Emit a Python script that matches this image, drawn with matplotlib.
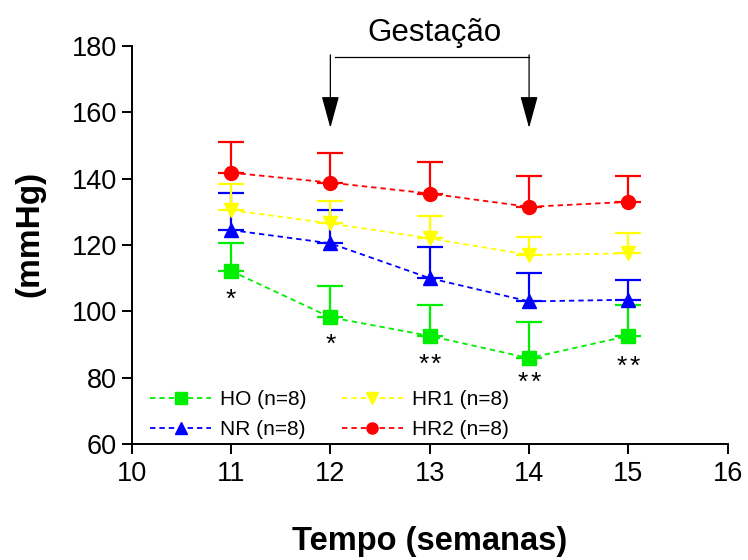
import matplotlib
matplotlib.use("Agg")
import matplotlib.pyplot as plt
import numpy as np

plt.rcParams['font.family'] = ['Liberation Sans', 'DejaVu Sans']

# Weeks of measurement
weeks = [11, 12, 13, 14, 15]

# Mean blood pressure (mmHg) per group
ho_mean = [112.2, 98.2, 92.6, 85.9, 92.6]
nr_mean = [124.5, 120.5, 110.0, 103.0, 103.5]
hr1_mean = [130.5, 126.5, 122.0, 117.0, 117.5]
hr2_mean = [141.8, 138.8, 135.5, 131.5, 133.0]

# Upper error (SD) per group
ho_err = [8.4, 9.4, 9.3, 10.9, 9.4]
nr_err = [11.2, 10.0, 9.4, 8.5, 5.9]
hr1_err = [7.9, 6.8, 6.7, 5.4, 6.1]
hr2_err = [9.2, 8.9, 9.5, 9.3, 7.8]

labels = ["HO (n=8)", "NR (n=8)", "HR1 (n=8)", "HR2 (n=8)"]
colors = ["#00ee00", "#0000ff", "#ffff00", "#ff0000"]
markers = ["s", "^", "v", "o"]

# Significance marks under the HO series (number of asterisks per week)
star_count = [1, 1, 2, 2, 2]
star_y = [104.9, 91.4, 85.3, 79.9, 84.7]

fig = plt.figure(figsize=(7.48, 5.6), dpi=100)
ax = fig.add_axes([0.176, 0.207, 0.797, 0.711])

series = [(ho_mean, ho_err), (nr_mean, nr_err), (hr1_mean, hr1_err), (hr2_mean, hr2_err)]
handles = []
for (m, e), lab, c, mk in zip(series, labels, colors, markers):
    lo = np.zeros(len(e))
    ax.errorbar(weeks, m, yerr=[lo, e], fmt="none", ecolor=c, elinewidth=1.6,
                capsize=9.5, capthick=1.6, zorder=2)
    h, = ax.plot(weeks, m, linestyle=(0, (3, 2.2)), linewidth=1.3, color=c,
                 marker=mk, markersize=10, markeredgecolor=c, markerfacecolor=c,
                 label=lab, zorder=3)
    handles.append(h)

# asterisks, spaced a fixed number of points apart
for x, n, y in zip(weeks, star_count, star_y):
    offsets = [0.0] if n == 1 else [-4.5, 4.5]
    for dx in offsets:
        ax.annotate("*", xy=(x, y), xytext=(dx, -12), textcoords="offset points",
                    ha="center", va="bottom", fontsize=19, color="black")

# Pregnancy period bracket
ax.plot([12.05, 14.0], [176.7, 176.7], color="black", lw=0.9, clip_on=False)
for xa in (12.0, 14.0):
    ax.annotate("", xy=(xa, 155.3), xytext=(xa, 177.3),
                arrowprops=dict(arrowstyle="-|>,head_length=2.0,head_width=0.55",
                                mutation_scale=10, color="black", lw=0.9,
                                shrinkA=0, shrinkB=0),
                annotation_clip=False)
ax.text(13.05, 184.0, "Gestação", ha="center", va="center", fontsize=22.5,
        clip_on=False)

ax.set_xlim(10, 16)
ax.set_ylim(60, 180)
ax.set_xticks([10, 11, 12, 13, 14, 15, 16])
ax.set_yticks([60, 80, 100, 120, 140, 160, 180])
ax.spines["top"].set_visible(False)
ax.spines["right"].set_visible(False)
ax.spines["left"].set_linewidth(1.4)
ax.spines["bottom"].set_linewidth(1.4)
ax.tick_params(axis="both", direction="out", length=7, width=1.4, labelsize=19.5)
ax.tick_params(axis="x", pad=5)

ax.set_xlabel("Tempo (semanas)", fontsize=23.5, fontweight="bold")
ax.set_ylabel("(mmHg)", fontsize=24, fontweight="bold")
ax.xaxis.set_label_coords(0.5, -0.245)
ax.xaxis.label.set_va("center")
ax.yaxis.set_label_coords(-0.171, 0.529)
ax.yaxis.label.set_va("center")

ax.legend(handles=handles, ncol=2, loc="lower left", bbox_to_anchor=(0.0, -0.035),
          frameon=False, fontsize=15, handlelength=2.9, handletextpad=0.45,
          columnspacing=1.7, labelspacing=0.55, markerscale=0.8)

fig.savefig("out.png", dpi=100)
